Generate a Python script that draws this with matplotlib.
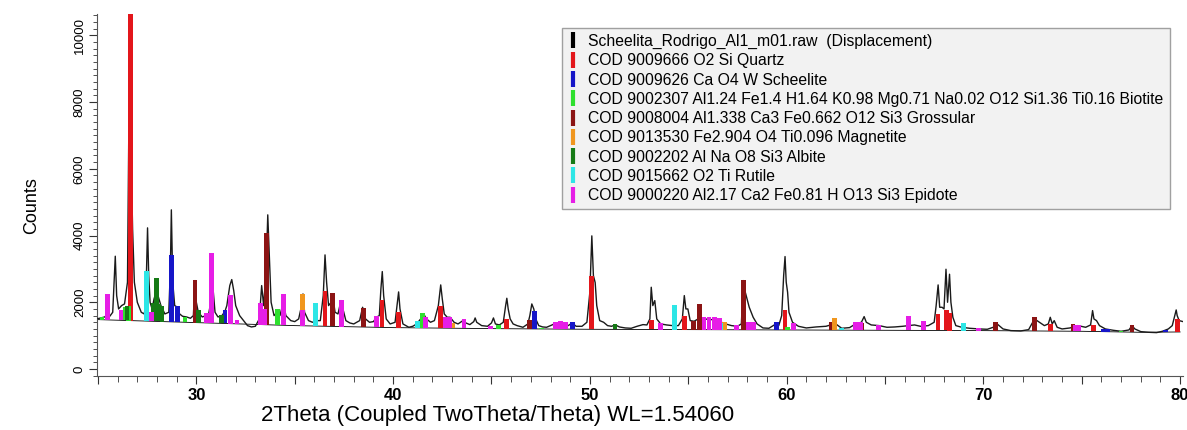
import numpy as np
import matplotlib
matplotlib.use("Agg")
import matplotlib.pyplot as plt
from matplotlib.ticker import MultipleLocator, FuncFormatter
from matplotlib.lines import Line2D

plt.rcParams['font.family'] = ['Liberation Sans', 'DejaVu Sans']

scan_tt = [25.0, 25.2, 25.35, 25.48, 25.6, 25.75, 25.88, 25.95, 26.05, 26.2, 26.35, 26.5, 26.58, 26.64,
           26.7, 26.76, 26.85, 27.0, 27.2, 27.35, 27.4, 27.47, 27.52, 27.58, 27.65, 27.75, 27.85, 27.95,
           28.05, 28.2, 28.4, 28.6, 28.68, 28.73, 28.8, 28.9, 29.05, 29.15, 29.3, 29.5, 29.7, 29.85,
           29.93, 30.0, 30.1, 30.3, 30.5, 30.6, 30.85, 30.95, 31.1, 31.3, 31.45, 31.55, 31.7, 31.8,
           31.9, 32.0, 32.2, 32.4, 32.6, 32.8, 33.0, 33.2, 33.32, 33.42, 33.55, 33.63, 33.72, 33.8,
           33.95, 34.1, 34.25, 34.42, 34.55, 34.8, 35.0, 35.2, 35.35, 35.42, 35.5, 35.7, 35.9, 36.1,
           36.3, 36.45, 36.54, 36.62, 36.72, 36.85, 36.93, 37.05, 37.2, 37.35, 37.45, 37.6, 37.8, 38.0,
           38.3, 38.45, 38.6, 38.8, 39.0, 39.15, 39.3, 39.38, 39.45, 39.52, 39.65, 39.85, 40.1, 40.22,
           40.28, 40.35, 40.5, 40.8, 41.0, 41.2, 41.4, 41.55, 41.7, 41.9, 42.1, 42.3, 42.42, 42.5,
           42.6, 42.75, 42.9, 43.1, 43.3, 43.55, 43.7, 43.9, 44.1, 44.17, 44.25, 44.5, 44.8, 45.0,
           45.1, 45.2, 45.4, 45.6, 45.72, 45.78, 45.85, 45.95, 46.1, 46.3, 46.6, 46.85, 46.95, 47.05,
           47.15, 47.25, 47.4, 47.6, 47.8, 48.0, 48.3, 48.6, 48.9, 49.1, 49.3, 49.6, 49.85, 50.0,
           50.1, 50.18, 50.27, 50.35, 50.5, 50.7, 50.9, 51.1, 51.3, 51.5, 51.8, 52.1, 52.4, 52.7,
           52.9, 53.05, 53.12, 53.2, 53.3, 53.4, 53.6, 53.9, 54.2, 54.5, 54.7, 54.8, 54.88, 54.98,
           55.1, 55.3, 55.5, 55.6, 55.8, 56.2, 56.6, 56.9, 57.2, 57.5, 57.7, 57.8, 57.9, 58.1,
           58.3, 58.5, 58.8, 59.1, 59.4, 59.6, 59.75, 59.85, 59.92, 59.98, 60.05, 60.12, 60.3, 60.6,
           61.0, 61.5, 62.0, 62.3, 62.5, 62.8, 63.2, 63.5, 63.8, 63.94, 64.05, 64.3, 64.7, 65.1,
           65.5, 65.9, 66.2, 66.5, 66.8, 67.2, 67.5, 67.6, 67.7, 67.78, 67.9, 68.0, 68.1, 68.18,
           68.28, 68.35, 68.45, 68.6, 68.9, 69.3, 69.8, 70.2, 70.5, 70.7, 71.0, 71.4, 71.9, 72.3,
           72.6, 72.8, 73.1, 73.3, 73.4, 73.5, 73.6, 73.75, 74.0, 74.4, 74.8, 75.2, 75.45, 75.55,
           75.62, 75.75, 75.9, 76.2, 76.6, 77.0, 77.4, 77.55, 77.7, 78.0, 78.4, 78.8, 79.1, 79.4,
           79.6, 79.8, 79.85, 79.95, 80.15]
scan_counts = [1510, 1540, 1560, 1650, 1580, 1700, 3380, 2200, 1800, 1900, 1950, 2600, 8000, 11500,
               6000, 4200, 2600, 2000, 1700, 1650, 1800, 3000, 4230, 2800, 2000, 1800, 2100, 2300,
               2200, 1900, 1650, 1700, 3000, 4770, 2600, 1900, 1850, 1650, 1580, 1560, 1520, 1600,
               2650, 2000, 1700, 1560, 1600, 1560, 2400, 1700, 1560, 1600, 1720, 1900, 2500, 2680,
               2350, 1900, 1600, 1450, 1300, 1260, 1280, 1500, 2500, 1900, 3000, 4620, 3200, 2000,
               1600, 1700, 1600, 2000, 1600, 1450, 1420, 1500, 1900, 2250, 1700, 1450, 1400, 1450,
               1450, 2200, 3420, 2600, 1900, 2000, 2200, 1700, 1650, 2050, 1800, 1450, 1380, 1350,
               1450, 1850, 1500, 1400, 1420, 1550, 1600, 2400, 2920, 2200, 1500, 1350, 1400, 2000,
               2310, 1800, 1350, 1250, 1280, 1350, 1500, 1650, 1500, 1400, 1450, 1900, 2520, 2100,
               1650, 1550, 1550, 1400, 1350, 1450, 1380, 1330, 1420, 1530, 1400, 1300, 1280, 1380,
               1530, 1350, 1320, 1400, 1900, 2120, 1800, 1500, 1350, 1300, 1250, 1350, 1600, 1950,
               1800, 1500, 1300, 1260, 1250, 1300, 1380, 1360, 1300, 1380, 1280, 1280, 1400, 2300,
               3990, 2800, 2590, 1900, 1450, 1400, 1300, 1280, 1320, 1260, 1230, 1220, 1280, 1330,
               1320, 1500, 2450, 1900, 2050, 1500, 1350, 1320, 1300, 1300, 1500, 2200, 1800, 1800,
               1450, 1430, 1500, 1550, 1500, 1480, 1420, 1350, 1300, 1280, 1350, 2650, 2300, 1850,
               1550, 1350, 1230, 1220, 1330, 1300, 1600, 2800, 3370, 2600, 2300, 1700, 1400, 1280,
               1230, 1260, 1280, 1330, 1350, 1220, 1240, 1350, 1400, 1570, 1400, 1320, 1300, 1250,
               1260, 1280, 1300, 1320, 1280, 1300, 1400, 1900, 2520, 1850, 1850, 1800, 2990, 2000,
               2840, 2000, 1550, 1300, 1250, 1220, 1200, 1190, 1250, 1350, 1200, 1150, 1140, 1180,
               1500, 1420, 1300, 1350, 1550, 1350, 1450, 1250, 1200, 1230, 1300, 1250, 1320, 1750,
               1500, 1450, 1300, 1200, 1160, 1130, 1170, 1300, 1200, 1120, 1100, 1090, 1130, 1200,
               1300, 1770, 1600, 1450, 1420]

# fitted background
bg_tt = [25, 30, 35, 40, 45, 50, 55, 60, 65, 70, 75, 78, 80]
bg_counts = [1480, 1390, 1300, 1240, 1210, 1190, 1180, 1170, 1160, 1150, 1130, 1100, 1110]

# reference phase sticks: positions and top counts
quartz_tt = [26.64, 36.54, 39.44, 40.27, 42.42, 45.78, 50.1, 53.15, 54.82, 59.92, 67.7, 68.12, 68.28,
             73.4, 75.58, 79.87]
quartz_top = [12000, 2340, 2070, 1720, 1900, 1500, 2790, 1460, 1600, 1780, 1650, 1780, 1670,
              1340, 1320, 1500]
scheelite_tt = [28.72, 29.05, 31.46, 39.17, 47.17, 49.12, 59.48, 76.1, 76.3, 79.25]
scheelite_top = [3420, 1890, 1770, 1560, 1750, 1400, 1420, 1200, 1190, 1160]
biotite_tt = [25.2, 26.4, 26.55, 29.43, 34.13, 41.5, 45.36, 47.56, 60.05, 77.0, 78.3]
biotite_top = [1570, 1870, 1890, 1570, 1800, 1690, 1320, 1230, 1260, 1140, 1110]
grossular_tt = [29.93, 33.55, 36.92, 38.5, 46.93, 55.28, 55.57, 57.81, 62.25, 63.83, 70.6, 72.6,
                74.55, 77.55]
grossular_top = [2670, 4080, 2290, 1820, 1470, 1450, 1950, 2670, 1420, 1370, 1420, 1550,
                 1350, 1320]
magnetite_tt = [35.4, 43.02, 56.85, 62.42]
magnetite_top = [2240, 1380, 1420, 1520]
albite_tt = [26.48, 27.8, 27.99, 28.1, 28.26, 30.1, 31.28, 51.28]
albite_top = [1880, 1980, 2730, 1960, 1900, 1770, 1620, 1350]
rutile_tt = [27.45, 36.07, 41.24, 54.3, 56.67, 62.8, 69.0]
rutile_top = [2940, 1990, 1450, 1920, 1390, 1230, 1370]
epidote_tt = [25.48, 26.17, 27.73, 30.53, 30.78, 31.72, 32.06, 33.27, 33.45, 34.42, 35.4, 37.39,
              39.17, 41.63, 42.65, 42.87, 43.6, 44.94, 48.24, 48.5, 48.75, 51.46, 53.6, 55.8,
              56.05, 56.35, 56.6, 57.47, 58.05, 58.3, 60.35, 63.5, 63.75, 64.68, 66.2, 66.96,
              69.76, 74.7, 74.85]
epidote_top = [2250, 1770, 1720, 1680, 3480, 2220, 1470, 1980, 1800, 2250, 1770, 2070,
               1590, 1570, 1570, 1570, 1500, 1290, 1420, 1440, 1400, 1200, 1380, 1570,
               1560, 1560, 1540, 1320, 1420, 1400, 1380, 1420, 1420, 1320, 1590, 1450,
               1220, 1320, 1330]

labels = ['Scheelita_Rodrigo_Al1_m01.raw  (Displacement)',
          'COD 9009666 O2 Si Quartz',
          'COD 9009626 Ca O4 W Scheelite',
          'COD 9002307 Al1.24 Fe1.4 H1.64 K0.98 Mg0.71 Na0.02 O12 Si1.36 Ti0.16 Biotite',
          'COD 9008004 Al1.338 Ca3 Fe0.662 O12 Si3 Grossular',
          'COD 9013530 Fe2.904 O4 Ti0.096 Magnetite',
          'COD 9002202 Al Na O8 Si3 Albite',
          'COD 9015662 O2 Ti Rutile',
          'COD 9000220 Al2.17 Ca2 Fe0.81 H O13 Si3 Epidote']
colors = ['#000000', '#e3161b', '#1616c8', '#2ee02e', '#8b1414', '#f0961e', '#157a15', '#2de6e6', '#e61ee6']

fig = plt.figure(figsize=(11.87, 4.30), dpi=100)
ax = fig.add_axes([0.0817, 0.1256, 0.915, 0.8418])

ax.plot(bg_tt, bg_counts, color='black', lw=0.6, zorder=2)
ax.plot(scan_tt, scan_counts, color='#1a1a1a', lw=1.0, zorder=3)

phases = [(quartz_tt, quartz_top), (scheelite_tt, scheelite_top), (biotite_tt, biotite_top),
          (grossular_tt, grossular_top), (magnetite_tt, magnetite_top), (albite_tt, albite_top),
          (rutile_tt, rutile_top), (epidote_tt, epidote_top)]
for (tt, top), c in zip(phases, colors[1:]):
    tt = np.array(tt)
    base = np.interp(tt, bg_tt, bg_counts)
    ax.bar(tt, np.array(top) - base, bottom=base, width=0.24, color=c, zorder=4, linewidth=0)

ax.set_xlim(24.95, 80.15)
ax.set_ylim(-210, 10640)
for s in ['top', 'right']:
    ax.spines[s].set_visible(False)
ax.spines['left'].set_color('#555555')
ax.spines['bottom'].set_color('#555555')

ax.xaxis.set_major_locator(MultipleLocator(5))
ax.xaxis.set_minor_locator(MultipleLocator(1))
ax.xaxis.set_major_formatter(FuncFormatter(lambda v, p: '%d' % v if int(round(v)) % 10 == 0 else ''))
ax.yaxis.set_major_locator(MultipleLocator(2000))
ax.yaxis.set_minor_locator(MultipleLocator(200))
ax.tick_params(axis='x', which='major', length=6, labelsize=12, color='#333333', pad=3)
ax.tick_params(axis='x', which='minor', length=4, color='#333333')
ax.tick_params(axis='y', which='major', length=6, labelsize=9.5, color='#333333', pad=2)
ax.tick_params(axis='y', which='minor', length=3, color='#333333')
for t in ax.get_xticklabels():
    t.set_fontweight('bold')
for t in ax.get_yticklabels():
    t.set_rotation(90)
    t.set_va('center')

ax.set_xlabel('2Theta (Coupled TwoTheta/Theta) WL=1.54060', fontsize=16)
ax.xaxis.set_label_coords(0.369, -0.08)
ax.set_ylabel('Counts', fontsize=13)
ax.yaxis.set_label_coords(-0.052, 0.47)

handles = [Line2D([], [], color=c, marker='|', linestyle='none', markersize=11, markeredgewidth=3)
           for c in colors]
leg = ax.legend(handles, labels, loc='upper left', bbox_to_anchor=(0.4735, 0.9349),
                bbox_transform=fig.transFigure, borderaxespad=0, fontsize=11.3, frameon=True,
                fancybox=False, framealpha=1, facecolor='#f2f2f2', edgecolor='#a0a0a0',
                handlelength=0.6, handletextpad=0.7, labelspacing=0.27, borderpad=0.38)
leg.set_zorder(10)

fig.savefig('out.png', dpi=100)
